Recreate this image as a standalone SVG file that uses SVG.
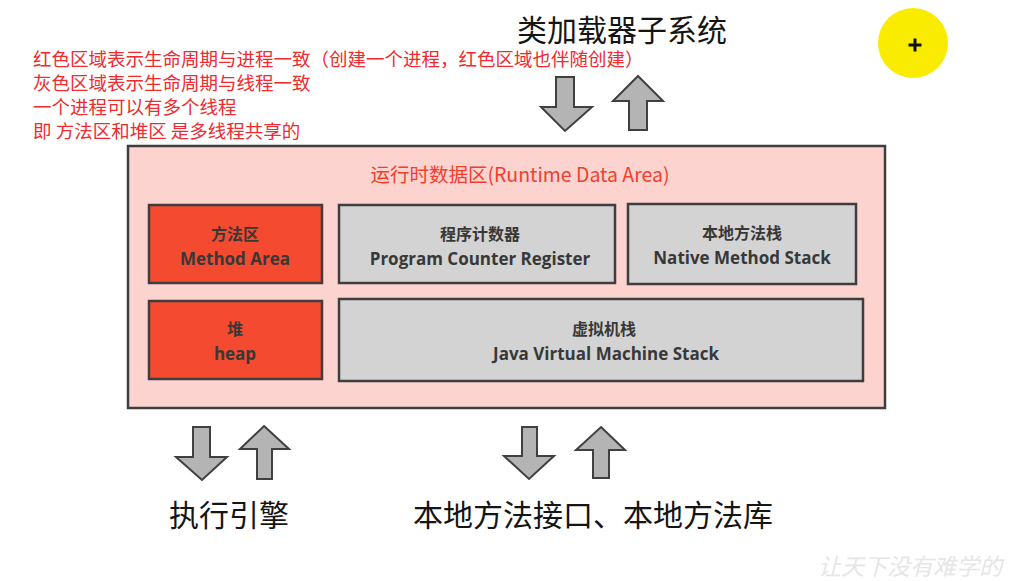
<svg xmlns="http://www.w3.org/2000/svg" width="1030" height="581" viewBox="0 0 1030 581">
<style>
.note{font-family:"Noto Sans CJK SC","Noto Sans",sans-serif;font-size:18.5px;fill:#ee2b2f}
.big{font-family:"Noto Sans CJK SC","Noto Sans",sans-serif;font-size:30px;fill:#151515}
.box{stroke:#3e3e3e;stroke-width:2.5}
.red{fill:#f44a30}
.gray{fill:#d3d3d3}
.zh{font-family:"Noto Sans CJK SC","Noto Sans",sans-serif;font-size:16px;font-weight:700;fill:#383838;text-anchor:middle}
.en{font-family:"Open Sans","Noto Sans","Noto Sans CJK SC",sans-serif;font-size:17px;font-weight:700;fill:#383838;text-anchor:middle}
.arrow{fill:#b4b4b4;stroke:#404040;stroke-width:2;stroke-linejoin:miter}
</style>
<rect width="1030" height="581" fill="#ffffff"/>
<g id="notes">
<text class="note" x="33" y="66">红色区域表示生命周期与进程一致（创建一个进程，红色区域也伴随创建）</text>
<text class="note" x="33" y="90">灰色区域表示生命周期与线程一致</text>
<text class="note" x="33" y="114">一个进程可以有多个线程</text>
<text class="note" x="33" y="138">即 方法区和堆区 是多线程共享的</text>
</g>
<g id="classloader">
<text class="big" x="517" y="41">类加载器子系统</text>
</g>
<g id="cursor">
<circle cx="913" cy="43" r="35" fill="#f9ec00"/>
<path d="M908.5 45 H921.5 M915 38.5 V51.5" stroke="#111" stroke-width="3"/>
</g>
<g id="runtime-data-area">
<rect x="128" y="146" width="757" height="262" fill="#fdd3d0" class="box"/>
<text x="520" y="182" text-anchor="middle" font-family="Noto Sans CJK SC,Noto Sans,sans-serif" font-size="19.5" fill="#f23f2c">运行时数据区(Runtime Data Area)</text>
</g>
<g id="method-area">
<rect x="149" y="205" width="173" height="78" class="box red"/>
<text class="zh" x="235" y="240">方法区</text>
<text class="en" x="235" y="265">Method Area</text>
</g>
<g id="program-counter">
<rect x="339" y="205" width="276" height="78" class="box gray"/>
<text class="zh" x="480" y="240">程序计数器</text>
<text class="en" x="480" y="265">Program Counter Register</text>
</g>
<g id="native-method-stack">
<rect x="628" y="204" width="228" height="80" class="box gray"/>
<text class="zh" x="742" y="239">本地方法栈</text>
<text class="en" x="742" y="264">Native Method Stack</text>
</g>
<g id="heap">
<rect x="149" y="301" width="173" height="78" class="box red"/>
<text class="zh" x="235" y="335">堆</text>
<text class="en" x="235" y="360">heap</text>
</g>
<g id="jvm-stack">
<rect x="339" y="299" width="524" height="82" class="box gray"/>
<text class="zh" x="604" y="335">虚拟机栈</text>
<text class="en" x="606" y="360">Java Virtual Machine Stack</text>
</g>
<g id="connectors">
<path class="arrow" d="M556 77 H574 V107 H592 L565 131 L541 107 H556 Z"/>
<path class="arrow" d="M638 76 L663 101 H647 V130 H629 V101 H613 Z"/>
<path class="arrow" d="M193 427 H210 V457 H227 L202 480 L176 457 H193 Z"/>
<path class="arrow" d="M264 426 L289 449 H272 V479 H257 V449 H240 Z"/>
<path class="arrow" d="M522 427 H537 V456 H554 L529 479 L504 456 H522 Z"/>
<path class="arrow" d="M601 427 L625 450 H609 V478 H593 V450 H576 Z"/>
</g>
<g id="execution-engine">
<text class="big" x="169" y="526">执行引擎</text>
</g>
<g id="native-interface">
<text class="big" x="413" y="526">本地方法接口、本地方法库</text>
</g>
<text x="818" y="575" font-family="Noto Sans CJK SC,sans-serif" font-size="23" font-style="italic" fill="#e6e6e6">让天下没有难学的</text>
</svg>
